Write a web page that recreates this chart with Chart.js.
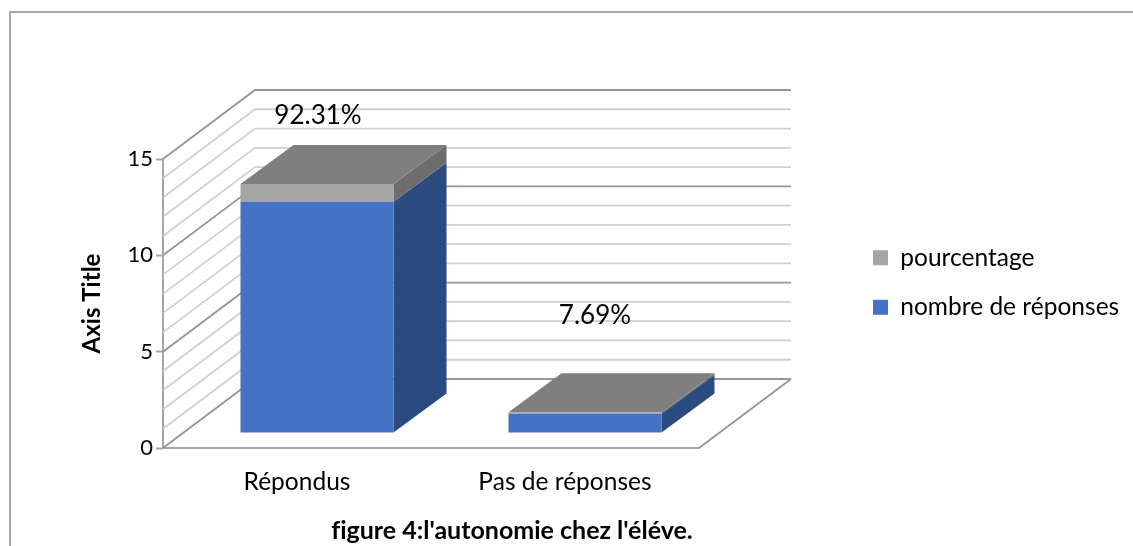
<!DOCTYPE html>
<html>
<head>
<meta charset="utf-8">
<title>figure 4</title>
<script src="https://cdn.jsdelivr.net/npm/chart.js@4"></script>
<style>
  html, body { margin: 0; background: #fff; overflow: hidden; }
  #frame { position: absolute; left: 9px; top: 11px; width: 1130px; height: 540px;
    border-left: 2px solid #a9a9a9; border-top: 2px solid #a9a9a9; }
  #chart { position: absolute; left: 0; top: 0; }
</style>
</head>
<body>
<div id="frame"></div>
<canvas id="chart" width="1133" height="546"></canvas>
<script>
const categories = ["Répondus", "Pas de réponses"];
const nombreReponses = [12, 1];
const pourcentage = [0.9231, 0.0769];
const seriesNames = ["nombre de réponses", "pourcentage"];
const yTicks = [0, 5, 10, 15];

const FONT = "Lato, sans-serif";
const WALL = { dx: 92, dy: -69 };     // back wall offset
const FRONT = { dx: 20, dy: -15 };    // bar front face offset
const BAR = { dx: 53, dy: -39 };      // bar depth
const labelShift = [{ dx: 1, dy: -68 }, { dx: 10, dy: -97 }];
const sideColors = ["#2b4a80", "#6d6d6d"];
const topColor = "#7f7f7f";

function poly(ctx, pts, color) {
  ctx.fillStyle = color;
  ctx.beginPath();
  pts.forEach((p, i) => (i ? ctx.lineTo(p[0], p[1]) : ctx.moveTo(p[0], p[1])));
  ctx.closePath();
  ctx.fill();
}

function line(ctx, pts, color, width) {
  ctx.strokeStyle = color;
  ctx.lineWidth = width;
  ctx.beginPath();
  pts.forEach((p, i) => (i ? ctx.lineTo(p[0], p[1]) : ctx.moveTo(p[0], p[1])));
  ctx.stroke();
}

const box3d = {
  id: "box3d",
  afterLayout(chart) {
    // legend and title do not sit where the layout boxes put them
    const { legend, titleBlock } = chart;
    const shiftY = 282.5 - (legend.top + legend.bottom) / 2;
    legend.left = 848;
    legend.right = 1133; // legend clips to its box, keep the long label
    legend.top += shiftY;
    legend.bottom += shiftY;
    const titleShift = 512 - (titleBlock.left + titleBlock.right) / 2;
    titleBlock.left += titleShift;
    titleBlock.right += titleShift;
  },
  beforeDraw(chart) {
    chart.ctx.letterSpacing = "0.01px"; // stops the fi ligature
  },
  beforeDatasetsDraw(chart) {
    const { ctx, chartArea: a, scales } = chart;
    const y = scales.y;

    // left wall and back wall, one line per unit
    for (let v = y.min; v <= y.max; v++) {
      const py = y.getPixelForValue(v);
      const major = v % 5 === 0;
      const color = major ? "#969696" : "#d0d0d0";
      const pts = [[a.left, py], [a.left + WALL.dx, py + WALL.dy], [a.right + WALL.dx, py + WALL.dy]];
      line(ctx, pts, color, 1.8);
    }
    // floor right edge
    line(ctx, [[a.right, a.bottom], [a.right + WALL.dx, a.bottom + WALL.dy]], "#969696", 1.8);

    // sides and top of the bars
    chart.data.datasets.forEach((ds, d) => {
      chart.getDatasetMeta(d).data.forEach((bar) => {
        const left = bar.x - bar.width / 2 + FRONT.dx;
        const right = bar.x + bar.width / 2 + FRONT.dx;
        const top = bar.y + FRONT.dy;
        const bottom = bar.base + FRONT.dy;
        poly(ctx, [[right, top], [right + BAR.dx, top + BAR.dy], [right + BAR.dx, bottom + BAR.dy], [right, bottom]], sideColors[d]);
        if (d === chart.data.datasets.length - 1) {
          poly(ctx, [[left, top], [left + BAR.dx, top + BAR.dy], [right + BAR.dx, top + BAR.dy], [right, top]], topColor);
        }
      });
    });

    ctx.save();
    ctx.translate(FRONT.dx, FRONT.dy);
  },
  afterDatasetsDraw(chart) {
    const { ctx } = chart;
    ctx.restore();

    // percentage labels
    ctx.fillStyle = "#000";
    ctx.font = "26px " + FONT;
    ctx.textAlign = "center";
    ctx.textBaseline = "middle";
    chart.getDatasetMeta(1).data.forEach((bar, i) => {
      const text = (pourcentage[i] * 100).toFixed(2) + "%";
      ctx.fillText(text, bar.x + FRONT.dx + labelShift[i].dx, bar.y + FRONT.dy + labelShift[i].dy);
    });
  },
};

new Chart(document.getElementById("chart"), {
  type: "bar",
  data: {
    labels: categories,
    datasets: [
      { label: seriesNames[0], data: nombreReponses, backgroundColor: "#4472c4" },
      { label: seriesNames[1], data: pourcentage, backgroundColor: "#a5a5a5" },
    ],
  },
  options: {
    responsive: false,
    animation: false,
    barPercentage: 0.571,
    categoryPercentage: 1,
    layout: { padding: { left: 78, top: 159, right: 227, bottom: 0 } },
    plugins: {
      tooltip: { enabled: false },
      title: {
        display: true,
        position: "bottom",
        text: "figure 4:l'autonomie chez l'éléve.",
        color: "#000",
        font: { family: FONT, size: 25, weight: "bold" },
        padding: { top: 18, bottom: 0 },
      },
      legend: {
        position: "right",
        reverse: true,
        labels: {
          boxWidth: 15,
          boxHeight: 15,
          padding: 25,
          color: "#000",
          font: { family: FONT, size: 24.5 },
        },
      },
    },
    scales: {
      x: {
        stacked: true,
        afterFit(scale) { scale.height = 50; },
        border: { color: "#a6a6a6", width: 2 },
        grid: { display: false },
        ticks: { color: "#000", padding: 11, font: { family: FONT, size: 24.5 }, maxRotation: 0 },
      },
      y: {
        stacked: true,
        min: yTicks[0],
        max: yTicks[yTicks.length - 1],
        afterBuildTicks(scale) { scale.ticks = yTicks.map((v) => ({ value: v })); },
        afterFit(scale) { scale.width = 85; },
        border: { color: "#a6a6a6", width: 2 },
        grid: { drawOnChartArea: false, tickLength: 7, color: "#a6a6a6", tickWidth: 2 },
        ticks: { color: "#000", padding: 3, font: { family: FONT, size: 22 } },
        title: {
          display: true,
          text: "Axis Title",
          color: "#000",
          font: { family: FONT, size: 24, weight: "bold" },
          padding: 0,
        },
      },
    },
  },
  plugins: [box3d],
});
</script>
</body>
</html>
